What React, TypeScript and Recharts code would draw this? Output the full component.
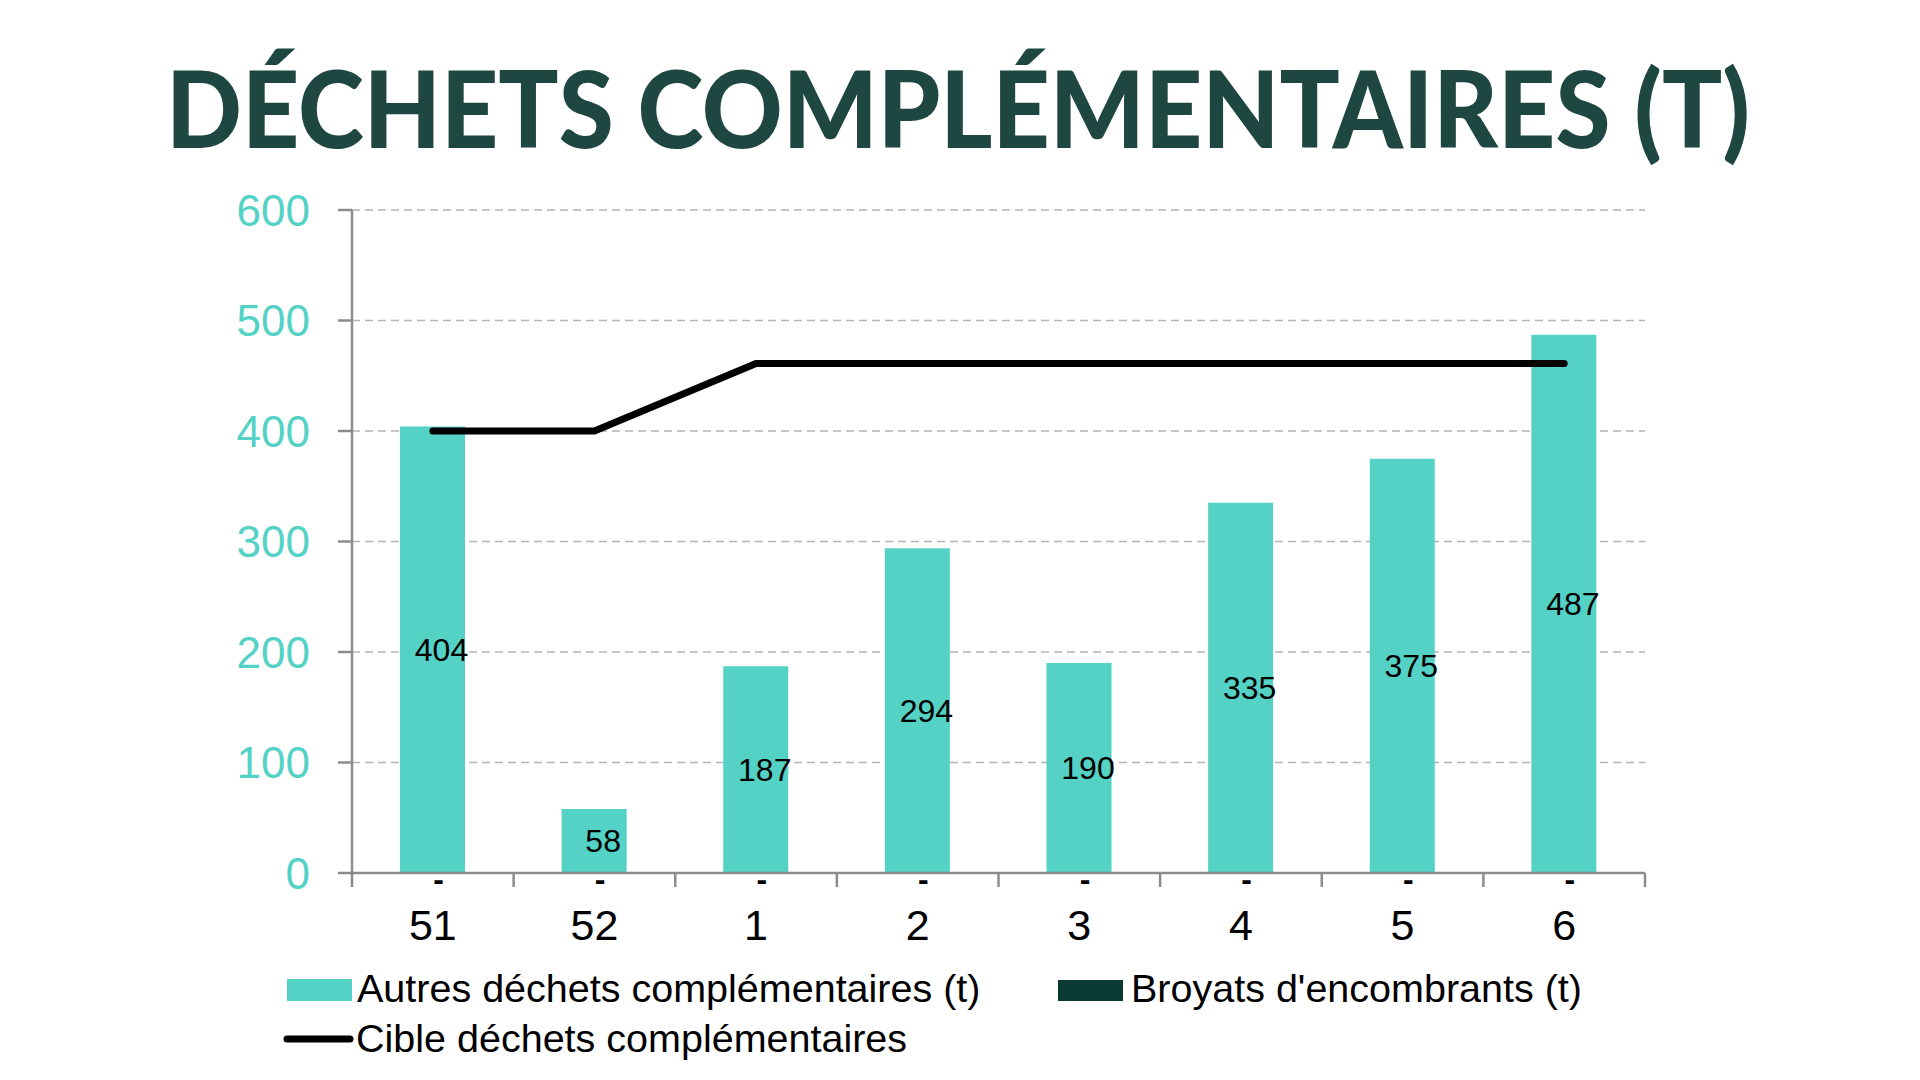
import React from "react";
import {
  ComposedChart,
  Bar,
  Line,
  XAxis,
  YAxis,
  CartesianGrid,
  LabelList,
} from "recharts";

const weeks = ["51", "52", "1", "2", "3", "4", "5", "6"];
const autres = [404, 58, 187, 294, 190, 335, 375, 487];
const broyats = [0, 0, 0, 0, 0, 0, 0, 0];
const cible = [400, 400, 461, 461, 461, 461, 461, 461];
const yTicks = [0, 100, 200, 300, 400, 500, 600];

const TITLE = "DÉCHETS COMPLÉMENTAIRES (T)";
const NAME_AUTRES = "Autres déchets complémentaires (t)";
const NAME_BROYATS = "Broyats d'encombrants (t)";
const NAME_CIBLE = "Cible déchets complémentaires";

const TEAL = "#53d2c5";
const DARK = "#0b3a33";
const TITLE_COLOR = "#1f4741";
const AXIS_GRAY = "#8c8c8c";
const FONT = "'Liberation Sans', Arial, sans-serif";

const data = weeks.map((w, i) => ({
  week: w,
  autres: autres[i],
  broyats: broyats[i],
  cible: cible[i],
}));

const getBox = (p: any) => {
  const vb = p.viewBox || {};
  const x = p.x ?? vb.x ?? 0;
  const y = p.y ?? vb.y ?? 0;
  const width = p.width ?? vb.width ?? 0;
  const height = p.height ?? vb.height ?? 0;
  return { x: Number(x), y: Number(y), width: Number(width), height: Number(height) };
};

const ValueLabel = (p: any) => {
  const { x, y, width, height } = getBox(p);
  return (
    <text
      x={x + width / 2 + 9}
      y={y + height / 2}
      textAnchor="middle"
      dominantBaseline="central"
      fontSize={32}
      fontFamily={FONT}
      fill="#000"
    >
      {p.value}
    </text>
  );
};

// label of the (zero) "Broyats" value, sitting at the base of the stack
const ZeroLabel = (p: any) => {
  const { x, y, width, height } = getBox(p);
  return (
    <text
      x={x + width / 2 + 6}
      y={y + height + 6}
      textAnchor="middle"
      dominantBaseline="central"
      fontSize={32}
      fontWeight="bold"
      fontFamily={FONT}
      fill="#000"
    >
      {p.value === 0 ? "-" : p.value}
    </text>
  );
};

const XTick = (p: any) => {
  const { x, y, payload, index, visibleTicksCount } = p;
  const count = visibleTicksCount || weeks.length;
  const half =
    payload && payload.offset ? payload.offset : (Number(p.width) || 0) / count / 2;
  return (
    <g>
      <line
        x1={x - half}
        x2={x - half}
        y1={y}
        y2={y + 14}
        stroke={AXIS_GRAY}
        strokeWidth={2.5}
      />
      {index === count - 1 && (
        <line
          x1={x + half}
          x2={x + half}
          y1={y}
          y2={y + 14}
          stroke={AXIS_GRAY}
          strokeWidth={2.5}
        />
      )}
      <text
        x={x}
        y={y + 67}
        textAnchor="middle"
        fontSize={43}
        fontFamily={FONT}
        fill="#000"
      >
        {payload.value}
      </text>
    </g>
  );
};

export default function App() {
  return (
    <div
      style={{
        position: "absolute",
        left: 0,
        top: 0,
        width: 1920,
        height: 1080,
        background: "#fff",
        fontFamily: FONT,
      }}
    >
      <svg
        width={1920}
        height={200}
        style={{ position: "absolute", left: 0, top: 0 }}
      >
        <text
          x={166}
          y={148}
          fontSize={107}
          fontFamily="Lato, 'Open Sans', sans-serif"
          fontWeight={900}
          fill={TITLE_COLOR}
          textLength={1584}
          lengthAdjust="spacingAndGlyphs"
        >
          {TITLE}
        </text>
      </svg>

      <div style={{ position: "absolute", left: 0, top: 0 }}>
        <ComposedChart
          width={1920}
          height={1080}
          data={data}
          margin={{ top: 210, right: 275, left: 252, bottom: 147 }}
        >
          <CartesianGrid
            horizontal
            vertical={false}
            stroke="#b4b4b4"
            strokeWidth={1.5}
            strokeDasharray="8 5"
          />
          <XAxis
            dataKey="week"
            type="category"
            axisLine={{ stroke: AXIS_GRAY, strokeWidth: 2.5 }}
            tickLine={false}
            tickSize={0}
            tickMargin={0}
            height={60}
            interval={0}
            tick={<XTick />}
          />
          <YAxis
            type="number"
            domain={[0, 600]}
            ticks={yTicks}
            interval={0}
            width={100}
            tickSize={14}
            tickMargin={28}
            axisLine={{ stroke: AXIS_GRAY, strokeWidth: 2.5 }}
            tickLine={{ stroke: AXIS_GRAY, strokeWidth: 2.5 }}
            tick={{ fill: TEAL, fontSize: 44, fontFamily: FONT }}
          />
          <Bar
            dataKey="broyats"
            name={NAME_BROYATS}
            stackId="s"
            fill={DARK}
            barSize={65}
            isAnimationActive={false}
          />
          <Bar
            dataKey="autres"
            name={NAME_AUTRES}
            stackId="s"
            fill={TEAL}
            barSize={65}
            isAnimationActive={false}
          >
            <LabelList dataKey="autres" content={ValueLabel} />
            <LabelList dataKey="broyats" content={ZeroLabel} />
          </Bar>
          <Line
            dataKey="cible"
            name={NAME_CIBLE}
            type="linear"
            stroke="#000"
            strokeWidth={7}
            strokeLinecap="round"
            strokeLinejoin="round"
            dot={false}
            activeDot={false}
            isAnimationActive={false}
          />
        </ComposedChart>
      </div>

      <svg
        width={1920}
        height={1080}
        style={{ position: "absolute", left: 0, top: 0, pointerEvents: "none" }}
      >
        <rect x={287} y={979} width={65} height={22} fill={TEAL} />
        <text x={357} y={1002} fontSize={39.5} fontFamily={FONT} fill="#000">
          {NAME_AUTRES}
        </text>
        <rect x={1058} y={980} width={65} height={21} fill={DARK} />
        <text x={1131} y={1002} fontSize={39.5} fontFamily={FONT} fill="#000">
          {NAME_BROYATS}
        </text>
        <line
          x1={287}
          y1={1039}
          x2={350}
          y2={1039}
          stroke="#000"
          strokeWidth={7}
          strokeLinecap="round"
        />
        <text x={356} y={1052} fontSize={39.5} fontFamily={FONT} fill="#000">
          {NAME_CIBLE}
        </text>
      </svg>
    </div>
  );
}
